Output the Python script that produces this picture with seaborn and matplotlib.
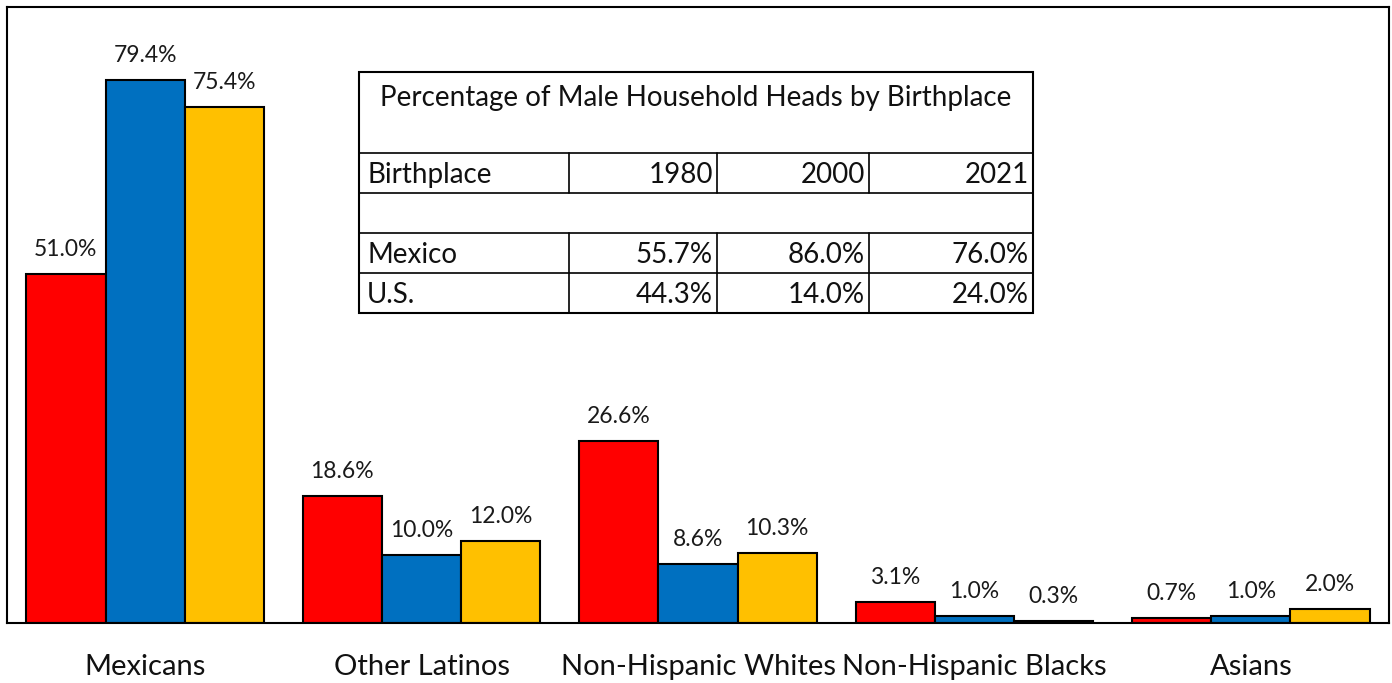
import matplotlib
matplotlib.use("Agg")
import matplotlib.pyplot as plt
import seaborn as sns
import pandas as pd
from matplotlib.patches import Rectangle

# Share of household heads by group and year
categories = ["Mexicans", "Other Latinos", "Non-Hispanic Whites", "Non-Hispanic Blacks", "Asians"]
years = ["1980", "2000", "2021"]
share_1980 = [51.0, 18.6, 26.6, 3.1, 0.7]
share_2000 = [79.4, 10.0, 8.6, 1.0, 1.0]
share_2021 = [75.4, 12.0, 10.3, 0.3, 2.0]
bar_colors = ["#FF0000", "#0070C0", "#FFC000"]

# Inset table: male household heads by birthplace
table_title = "Percentage of Male Household Heads by Birthplace"
table_header = ["Birthplace", "1980", "2000", "2021"]
table_rows = [
    ["Mexico", "55.7%", "86.0%", "76.0%"],
    ["U.S.", "44.3%", "14.0%", "24.0%"],
]

sns.set_theme(style="white")
plt.rcParams["font.family"] = ["Lato", "DejaVu Sans"]

df = pd.DataFrame({
    "group": categories * 3,
    "year": [y for y in years for _ in categories],
    "share": share_1980 + share_2000 + share_2021,
})

W, H = 1392, 683
fig = plt.figure(figsize=(W / 100, H / 100), dpi=100)
ax = fig.add_axes([7 / W, (H - 623) / H, (1389 - 7) / W, (623 - 7) / H])

sns.barplot(data=df, x="group", y="share", hue="year", order=categories,
            hue_order=years, palette=bar_colors, saturation=1, width=0.86,
            edgecolor="black", linewidth=1.5, legend=False, ax=ax)

for cont, vals in zip(ax.containers, [share_1980, share_2000, share_2021]):
    ax.bar_label(cont, labels=[f"{v:.1f}%" for v in vals], padding=10,
                 fontsize=16.5, color="#1a1a1a")

ax.set_ylim(0, 90)
ax.set_xlim(-0.5, len(categories) - 0.5)
ax.set_yticks([])
ax.set_xlabel("")
ax.set_ylabel("")
ax.tick_params(axis="x", length=0, pad=22, labelsize=21, labelcolor="#111111")
for s in ax.spines.values():
    s.set_visible(True)
    s.set_color("black")
    s.set_linewidth(1.5)

# Inset table, laid out in pixel units
tx0, ty0, tw, th = 359, 72, 674, 241
tax = fig.add_axes([tx0 / W, (H - ty0 - th) / H, tw / W, th / H])
tax.set_xlim(0, tw)
tax.set_ylim(th, 0)
tax.axis("off")
tax.add_patch(Rectangle((0, 0), tw, th, facecolor="white", edgecolor="black",
                        linewidth=1.5, clip_on=False))
col_edges = [0, 210, 358, 510, 674]
row_edges = [0, 81, 121, 161, 201, 241]
for y in row_edges[1:-1]:
    tax.plot([0, tw], [y, y], color="black", lw=1.2, solid_capstyle="butt")
for x in col_edges[1:-1]:
    tax.plot([x, x], [81, 121], color="black", lw=1.2)
    tax.plot([x, x], [161, 241], color="black", lw=1.2)

tax.text(tw / 2, 26, table_title, ha="center", va="center", fontsize=20, color="#111111")


def row_text(cells, yc):
    tax.text(col_edges[0] + 8, yc, cells[0], ha="left", va="center", fontsize=20, color="#111111")
    for i, c in enumerate(cells[1:], start=1):
        tax.text(col_edges[i + 1] - 4, yc, c, ha="right", va="center", fontsize=20, color="#111111")


row_text(table_header, 103)
for r, yc in zip(table_rows, [183, 223]):
    row_text(r, yc)

fig.savefig("out.png", dpi=100, facecolor="white")
